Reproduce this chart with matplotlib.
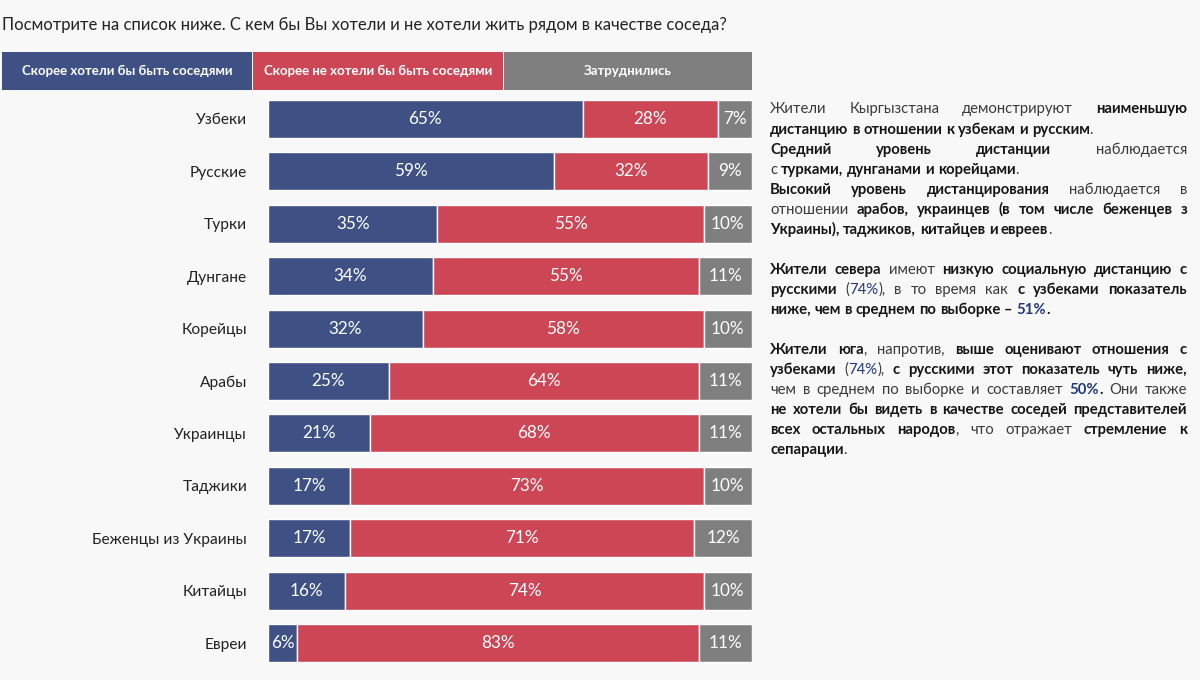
import matplotlib
matplotlib.use('Agg')
import matplotlib.pyplot as plt
from matplotlib.patches import Rectangle
import numpy as np

FONT = ['Lato', 'Open Sans', 'DejaVu Sans']
plt.rcParams['font.family'] = FONT

categories = ['Узбеки', 'Русские', 'Турки', 'Дунгане', 'Корейцы', 'Арабы',
              'Украинцы', 'Таджики', 'Беженцы из Украины', 'Китайцы', 'Евреи']
would_like = [65, 59, 35, 34, 32, 25, 21, 17, 17, 16, 6]
would_not = [28, 32, 55, 55, 58, 64, 68, 73, 71, 74, 83]
hard_to_say = [7, 9, 10, 11, 10, 11, 11, 10, 12, 10, 11]
series_labels = ['Скорее хотели бы быть соседями',
                 'Скорее не хотели бы быть соседями',
                 'Затруднились']
colors = ['#3E5084', '#CC4655', '#7F7F7F']

title = 'Посмотрите на список ниже. С кем бы Вы хотели и не хотели жить рядом в качестве соседа?'

# '*' toggles bold, '^' toggles blue; (line, justified)
text_lines = [
    ('Жители Кыргызстана демонстрируют *наименьшую*', True),
    ('*дистанцию в отношении к узбекам и русским*.', False),
    ('*Средний уровень дистанции* наблюдается', True),
    ('с *турками, дунганами и корейцами*.', False),
    ('*Высокий уровень дистанцирования* наблюдается в', True),
    ('отношении *арабов, украинцев (в том числе беженцев з*', True),
    ('*Украины), таджиков, китайцев и евреев*.', False),
    ('*Жители севера* имеют *низкую социальную дистанцию с*', True),
    ('*русскими* (^74%^), в то время как *с узбеками показатель*', True),
    ('*ниже, чем в среднем по выборке – ^51%^.*', False),
    ('*Жители юга*, напротив, *выше оценивают отношения с*', True),
    ('*узбеками* (^74%^), *с русскими этот показатель чуть ниже,*', True),
    ('чем в среднем по выборке и составляет *^50%^.* Они также', True),
    ('*не хотели бы видеть в качестве соседей представителей*', True),
    ('*всех остальных народов*, что отражает *стремление к*', True),
    ('*сепарации*.', False),
]
line_y_px = [108, 129, 149, 169, 189, 209, 229, 269, 289, 309, 349, 369, 389, 409, 429, 449]

W, H = 1200, 680
fig = plt.figure(figsize=(12, 6.8), dpi=100)
bg = '#F8F8F8'
fig.patch.set_facecolor(bg)


def fx(px):
    return px / W


def fy(py):
    return 1 - py / H


# ---- bars ----
top_c, bot_c = 119, 643
step = (bot_c - top_c) / (len(categories) - 1)
ax_top = top_c - step / 2
ax_bot = bot_c + step / 2
ax = fig.add_axes([fx(268), fy(ax_bot), fx(752) - fx(268), (ax_bot - ax_top) / H])
ax.set_facecolor(bg)
yy = np.arange(len(categories))
left = np.zeros(len(categories))
for vals, col in zip([would_like, would_not, hard_to_say], colors):
    vals = np.array(vals, dtype=float)
    bars = ax.barh(yy, vals, left=left, height=38 / step, color=col,
                   edgecolor='white', linewidth=1.0)
    for b, v in zip(bars, vals):
        ax.text(b.get_x() + b.get_width() / 2, b.get_y() + b.get_height() / 2,
                f'{int(v)}%', ha='center', va='center', color='white', fontsize=12.3)
    left += vals
ax.set_xlim(0, 100)
ax.set_ylim(len(categories) - 0.5, -0.5)
ax.set_yticks(yy)
ax.set_yticklabels(categories, fontsize=11.2, color='#222222')
ax.set_xticks([])
ax.tick_params(axis='y', length=0, pad=15)
for s in ax.spines.values():
    s.set_visible(False)

# ---- title ----
fig.text(fx(2), fy(25), title, ha='left', va='center', fontsize=12.0, color='#222222')

# ---- header legend boxes ----
box_edges = [(2, 252), (253, 503), (504, 752)]
for (x0, x1), lab, col in zip(box_edges, series_labels, colors):
    fig.patches.append(Rectangle((fx(x0), fy(90)), fx(x1) - fx(x0), 38 / H,
                                 transform=fig.transFigure, facecolor=col,
                                 edgecolor='none'))
    fig.text(fx((x0 + x1) / 2), fy(71), lab, ha='center', va='center',
             color='white', fontsize=9.5, fontweight='bold')

# ---- right text block ----
renderer = fig.canvas.get_renderer()
x_left, x_right = 770, 1187
fs = 10.7
c_norm, c_bold, c_blue = '#3A3A3A', '#151515', '#1F3A78'


def parse(s):
    words = []
    cur = []
    buf = ''
    bold = False
    blue = False
    for ch in s:
        if ch in '*^ ':
            if buf:
                cur.append((buf, bold, blue))
                buf = ''
            if ch == '*':
                bold = not bold
            elif ch == '^':
                blue = not blue
            else:
                if cur:
                    words.append(cur)
                    cur = []
        else:
            buf += ch
    if buf:
        cur.append((buf, bold, blue))
    if cur:
        words.append(cur)
    return words


def make_text(run):
    txt, bold, blue = run
    color = c_blue if blue else (c_bold if bold else c_norm)
    return fig.text(0, 0, txt, fontsize=fs, fontweight='bold' if bold else 'normal',
                    color=color, ha='left', va='baseline')


space_t = fig.text(0, 0, 'a a', fontsize=fs)
aa_t = fig.text(0, 0, 'aa', fontsize=fs)
space_w = space_t.get_window_extent(renderer).width - aa_t.get_window_extent(renderer).width
space_t.remove()
aa_t.remove()

for (line, just), ypx in zip(text_lines, line_y_px):
    words = parse(line)
    word_objs = []
    widths = []
    for w in words:
        objs = [make_text(r) for r in w]
        ws = [o.get_window_extent(renderer).width for o in objs]
        word_objs.append((objs, ws))
        widths.append(sum(ws))
    total = sum(widths)
    if just and len(words) > 1:
        gap = max((x_right - x_left - total) / (len(words) - 1), 1.5)
    else:
        gap = space_w
    x = x_left
    for (objs, ws) in word_objs:
        xx = x
        for o, w in zip(objs, ws):
            o.set_position((fx(xx), fy(ypx + 5)))
            xx += w
        x = xx + gap

fig.savefig('out.png', dpi=100, facecolor=bg)
